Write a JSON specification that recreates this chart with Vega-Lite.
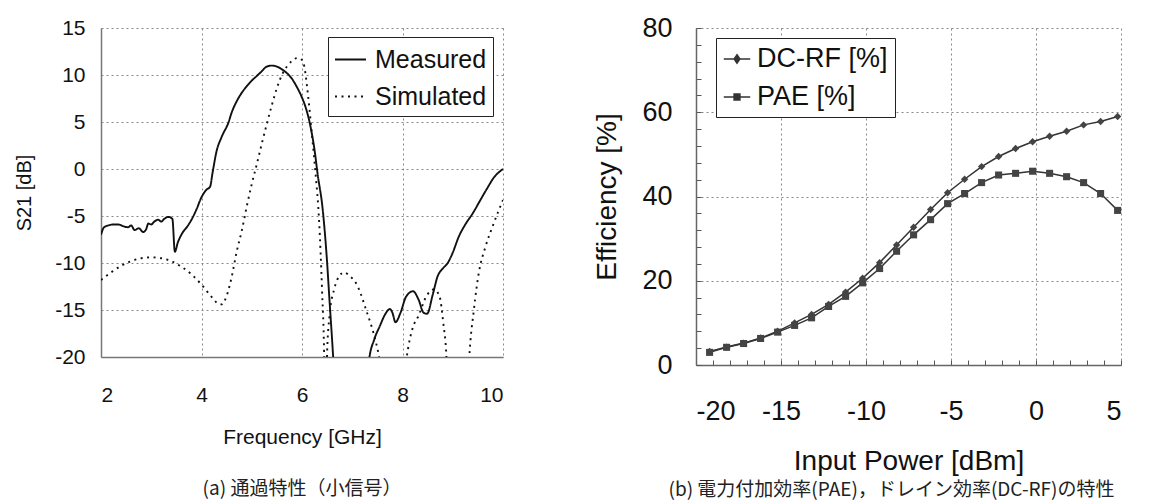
{
  "$schema": "https://vega.github.io/schema/vega-lite/v6.json",
  "background": "white",
  "padding": {"left": 14, "top": 14, "right": 0, "bottom": 0},
  "config": {"view": {"stroke": null}, "font": "Liberation Sans"},
  "spacing": 90,
  "resolve": {"legend": {"strokeDash": "independent", "shape": "independent"}},
  "datasets": {
    "s21": [
      {"f": 2.0, "v": -7.0, "series": "Measured"},
      {"f": 2.06, "v": -6.2, "series": "Measured"},
      {"f": 2.15, "v": -6.0, "series": "Measured"},
      {"f": 2.25, "v": -5.9, "series": "Measured"},
      {"f": 2.34, "v": -5.9, "series": "Measured"},
      {"f": 2.45, "v": -6.1, "series": "Measured"},
      {"f": 2.54, "v": -6.2, "series": "Measured"},
      {"f": 2.6, "v": -6.0, "series": "Measured"},
      {"f": 2.67, "v": -6.5, "series": "Measured"},
      {"f": 2.75, "v": -6.3, "series": "Measured"},
      {"f": 2.84, "v": -6.7, "series": "Measured"},
      {"f": 2.9, "v": -6.4, "series": "Measured"},
      {"f": 2.94, "v": -5.8, "series": "Measured"},
      {"f": 3.0, "v": -5.9, "series": "Measured"},
      {"f": 3.06, "v": -5.6, "series": "Measured"},
      {"f": 3.14, "v": -5.4, "series": "Measured"},
      {"f": 3.2, "v": -5.6, "series": "Measured"},
      {"f": 3.26, "v": -5.3, "series": "Measured"},
      {"f": 3.34, "v": -5.1, "series": "Measured"},
      {"f": 3.42, "v": -5.3, "series": "Measured"},
      {"f": 3.47, "v": -8.8, "series": "Measured"},
      {"f": 3.53, "v": -7.8, "series": "Measured"},
      {"f": 3.62, "v": -6.8, "series": "Measured"},
      {"f": 3.72, "v": -6.1, "series": "Measured"},
      {"f": 3.8, "v": -5.4, "series": "Measured"},
      {"f": 3.9, "v": -4.3, "series": "Measured"},
      {"f": 4.0, "v": -3.0, "series": "Measured"},
      {"f": 4.1, "v": -2.2, "series": "Measured"},
      {"f": 4.17, "v": -1.9, "series": "Measured"},
      {"f": 4.22, "v": -0.4, "series": "Measured"},
      {"f": 4.3, "v": 1.9, "series": "Measured"},
      {"f": 4.4, "v": 3.4, "series": "Measured"},
      {"f": 4.54, "v": 5.0, "series": "Measured"},
      {"f": 4.6, "v": 6.0, "series": "Measured"},
      {"f": 4.7, "v": 7.2, "series": "Measured"},
      {"f": 4.8, "v": 8.1, "series": "Measured"},
      {"f": 4.9, "v": 8.8, "series": "Measured"},
      {"f": 5.0, "v": 9.4, "series": "Measured"},
      {"f": 5.1, "v": 9.9, "series": "Measured"},
      {"f": 5.2, "v": 10.4, "series": "Measured"},
      {"f": 5.3, "v": 10.9, "series": "Measured"},
      {"f": 5.4, "v": 11.0, "series": "Measured"},
      {"f": 5.5, "v": 10.9, "series": "Measured"},
      {"f": 5.6, "v": 10.6, "series": "Measured"},
      {"f": 5.7, "v": 10.2, "series": "Measured"},
      {"f": 5.8, "v": 9.6, "series": "Measured"},
      {"f": 5.9, "v": 8.7, "series": "Measured"},
      {"f": 6.0, "v": 7.6, "series": "Measured"},
      {"f": 6.07, "v": 6.6, "series": "Measured"},
      {"f": 6.17, "v": 4.5, "series": "Measured"},
      {"f": 6.25, "v": 2.0, "series": "Measured"},
      {"f": 6.31, "v": -0.5, "series": "Measured"},
      {"f": 6.41, "v": -4.2, "series": "Measured"},
      {"f": 6.49, "v": -9.2, "series": "Measured"},
      {"f": 6.55, "v": -14.2, "series": "Measured"},
      {"f": 6.62, "v": -20, "series": "Measured"},
      {"f": 6.7, "v": -28, "series": "Measured"},
      {"f": 7.25, "v": -28, "series": "Measured"},
      {"f": 7.33, "v": -20.5, "series": "Measured"},
      {"f": 7.44, "v": -18.1, "series": "Measured"},
      {"f": 7.55, "v": -16.7, "series": "Measured"},
      {"f": 7.65, "v": -15.5, "series": "Measured"},
      {"f": 7.75, "v": -14.9, "series": "Measured"},
      {"f": 7.8, "v": -15.3, "series": "Measured"},
      {"f": 7.86, "v": -16.3, "series": "Measured"},
      {"f": 7.96, "v": -15.3, "series": "Measured"},
      {"f": 8.07, "v": -13.6, "series": "Measured"},
      {"f": 8.21, "v": -13.0, "series": "Measured"},
      {"f": 8.32, "v": -13.9, "series": "Measured"},
      {"f": 8.42, "v": -15.3, "series": "Measured"},
      {"f": 8.49, "v": -15.4, "series": "Measured"},
      {"f": 8.6, "v": -13.4, "series": "Measured"},
      {"f": 8.7, "v": -11.4, "series": "Measured"},
      {"f": 8.8, "v": -10.6, "series": "Measured"},
      {"f": 8.9, "v": -10.0, "series": "Measured"},
      {"f": 9.0, "v": -8.9, "series": "Measured"},
      {"f": 9.12, "v": -7.2, "series": "Measured"},
      {"f": 9.25, "v": -5.9, "series": "Measured"},
      {"f": 9.4, "v": -4.7, "series": "Measured"},
      {"f": 9.55, "v": -3.3, "series": "Measured"},
      {"f": 9.68, "v": -2.1, "series": "Measured"},
      {"f": 9.82, "v": -0.9, "series": "Measured"},
      {"f": 10.0, "v": 0.0, "series": "Measured"},
      {"f": 2.0, "v": -11.8, "series": "Simulated"},
      {"f": 2.2, "v": -11.0, "series": "Simulated"},
      {"f": 2.4, "v": -10.3, "series": "Simulated"},
      {"f": 2.6, "v": -9.8, "series": "Simulated"},
      {"f": 2.8, "v": -9.5, "series": "Simulated"},
      {"f": 3.0, "v": -9.4, "series": "Simulated"},
      {"f": 3.2, "v": -9.5, "series": "Simulated"},
      {"f": 3.4, "v": -9.8, "series": "Simulated"},
      {"f": 3.6, "v": -10.4, "series": "Simulated"},
      {"f": 3.8, "v": -11.2, "series": "Simulated"},
      {"f": 4.0, "v": -12.3, "series": "Simulated"},
      {"f": 4.2, "v": -13.6, "series": "Simulated"},
      {"f": 4.3, "v": -14.2, "series": "Simulated"},
      {"f": 4.4, "v": -14.4, "series": "Simulated"},
      {"f": 4.5, "v": -13.5, "series": "Simulated"},
      {"f": 4.6, "v": -11.5, "series": "Simulated"},
      {"f": 4.7, "v": -8.8, "series": "Simulated"},
      {"f": 4.8, "v": -6.6, "series": "Simulated"},
      {"f": 4.9, "v": -4.0, "series": "Simulated"},
      {"f": 5.0, "v": -1.6, "series": "Simulated"},
      {"f": 5.1, "v": 0.5, "series": "Simulated"},
      {"f": 5.2, "v": 2.7, "series": "Simulated"},
      {"f": 5.3, "v": 4.8, "series": "Simulated"},
      {"f": 5.4, "v": 6.8, "series": "Simulated"},
      {"f": 5.5, "v": 8.6, "series": "Simulated"},
      {"f": 5.6, "v": 10.0, "series": "Simulated"},
      {"f": 5.7, "v": 10.9, "series": "Simulated"},
      {"f": 5.8, "v": 11.5, "series": "Simulated"},
      {"f": 5.9, "v": 11.8, "series": "Simulated"},
      {"f": 6.0, "v": 11.6, "series": "Simulated"},
      {"f": 6.05, "v": 10.8, "series": "Simulated"},
      {"f": 6.1, "v": 8.8, "series": "Simulated"},
      {"f": 6.2, "v": 3.5, "series": "Simulated"},
      {"f": 6.27, "v": -0.5, "series": "Simulated"},
      {"f": 6.34, "v": -5.5, "series": "Simulated"},
      {"f": 6.4, "v": -13, "series": "Simulated"},
      {"f": 6.44, "v": -19.5, "series": "Simulated"},
      {"f": 6.47, "v": -30, "series": "Simulated"},
      {"f": 6.5, "v": -19.5, "series": "Simulated"},
      {"f": 6.55, "v": -15.5, "series": "Simulated"},
      {"f": 6.64, "v": -12.8, "series": "Simulated"},
      {"f": 6.74, "v": -11.4, "series": "Simulated"},
      {"f": 6.84, "v": -11.0, "series": "Simulated"},
      {"f": 6.95, "v": -11.4, "series": "Simulated"},
      {"f": 7.07, "v": -12.1, "series": "Simulated"},
      {"f": 7.17, "v": -13.3, "series": "Simulated"},
      {"f": 7.27, "v": -14.9, "series": "Simulated"},
      {"f": 7.37, "v": -16.5, "series": "Simulated"},
      {"f": 7.47, "v": -18.4, "series": "Simulated"},
      {"f": 7.55, "v": -20.5, "series": "Simulated"},
      {"f": 7.8, "v": -35, "series": "Simulated"},
      {"f": 8.07, "v": -20.5, "series": "Simulated"},
      {"f": 8.15, "v": -18, "series": "Simulated"},
      {"f": 8.21, "v": -16.8, "series": "Simulated"},
      {"f": 8.32, "v": -15.6, "series": "Simulated"},
      {"f": 8.46, "v": -13.7, "series": "Simulated"},
      {"f": 8.55, "v": -13.0, "series": "Simulated"},
      {"f": 8.63, "v": -12.8, "series": "Simulated"},
      {"f": 8.74, "v": -13.6, "series": "Simulated"},
      {"f": 8.81, "v": -16.3, "series": "Simulated"},
      {"f": 8.87, "v": -19.5, "series": "Simulated"},
      {"f": 8.95, "v": -30, "series": "Simulated"},
      {"f": 9.25, "v": -30, "series": "Simulated"},
      {"f": 9.33, "v": -20, "series": "Simulated"},
      {"f": 9.42, "v": -15, "series": "Simulated"},
      {"f": 9.52, "v": -11, "series": "Simulated"},
      {"f": 9.65, "v": -8.3, "series": "Simulated"},
      {"f": 9.8, "v": -6.0, "series": "Simulated"},
      {"f": 9.9, "v": -4.6, "series": "Simulated"},
      {"f": 10.0, "v": -3.3, "series": "Simulated"}
    ],
    "eff": [
      {"p": -19.2, "e": 3.2, "series": "DC-RF [%]"},
      {"p": -18.2, "e": 4.25, "series": "DC-RF [%]"},
      {"p": -17.2, "e": 5.2, "series": "DC-RF [%]"},
      {"p": -16.2, "e": 6.4, "series": "DC-RF [%]"},
      {"p": -15.2, "e": 8.0, "series": "DC-RF [%]"},
      {"p": -14.2, "e": 10.0, "series": "DC-RF [%]"},
      {"p": -13.2, "e": 12.0, "series": "DC-RF [%]"},
      {"p": -12.2, "e": 14.4, "series": "DC-RF [%]"},
      {"p": -11.2, "e": 17.3, "series": "DC-RF [%]"},
      {"p": -10.2, "e": 20.6, "series": "DC-RF [%]"},
      {"p": -9.2, "e": 24.3, "series": "DC-RF [%]"},
      {"p": -8.2, "e": 28.5, "series": "DC-RF [%]"},
      {"p": -7.2, "e": 32.7, "series": "DC-RF [%]"},
      {"p": -6.2, "e": 36.9, "series": "DC-RF [%]"},
      {"p": -5.2, "e": 40.9, "series": "DC-RF [%]"},
      {"p": -4.2, "e": 44.1, "series": "DC-RF [%]"},
      {"p": -3.2, "e": 47.1, "series": "DC-RF [%]"},
      {"p": -2.2, "e": 49.5, "series": "DC-RF [%]"},
      {"p": -1.2, "e": 51.4, "series": "DC-RF [%]"},
      {"p": -0.2, "e": 53.0, "series": "DC-RF [%]"},
      {"p": 0.8, "e": 54.3, "series": "DC-RF [%]"},
      {"p": 1.8, "e": 55.5, "series": "DC-RF [%]"},
      {"p": 2.8, "e": 57.0, "series": "DC-RF [%]"},
      {"p": 3.8, "e": 57.8, "series": "DC-RF [%]"},
      {"p": 4.8, "e": 59.0, "series": "DC-RF [%]"},
      {"p": -19.2, "e": 3.0, "series": "PAE [%]"},
      {"p": -18.2, "e": 4.2, "series": "PAE [%]"},
      {"p": -17.2, "e": 5.1, "series": "PAE [%]"},
      {"p": -16.2, "e": 6.3, "series": "PAE [%]"},
      {"p": -15.2, "e": 7.8, "series": "PAE [%]"},
      {"p": -14.2, "e": 9.4, "series": "PAE [%]"},
      {"p": -13.2, "e": 11.2, "series": "PAE [%]"},
      {"p": -12.2, "e": 13.9, "series": "PAE [%]"},
      {"p": -11.2, "e": 16.3, "series": "PAE [%]"},
      {"p": -10.2, "e": 19.5, "series": "PAE [%]"},
      {"p": -9.2, "e": 22.9, "series": "PAE [%]"},
      {"p": -8.2, "e": 27.0, "series": "PAE [%]"},
      {"p": -7.2, "e": 30.9, "series": "PAE [%]"},
      {"p": -6.2, "e": 34.5, "series": "PAE [%]"},
      {"p": -5.2, "e": 38.3, "series": "PAE [%]"},
      {"p": -4.2, "e": 40.7, "series": "PAE [%]"},
      {"p": -3.2, "e": 43.3, "series": "PAE [%]"},
      {"p": -2.2, "e": 45.1, "series": "PAE [%]"},
      {"p": -1.2, "e": 45.5, "series": "PAE [%]"},
      {"p": -0.2, "e": 46.0, "series": "PAE [%]"},
      {"p": 0.8, "e": 45.5, "series": "PAE [%]"},
      {"p": 1.8, "e": 44.7, "series": "PAE [%]"},
      {"p": 2.8, "e": 43.3, "series": "PAE [%]"},
      {"p": 3.8, "e": 40.7, "series": "PAE [%]"},
      {"p": 4.8, "e": 36.7, "series": "PAE [%]"}
    ]
  },
  "hconcat": [
    {
      "width": 402,
      "height": 329,
      "title": {"text": "(a) 通過特性（小信号）", "orient": "bottom", "frame": "group", "anchor": "middle", "font": "Noto Sans CJK JP", "fontSize": 19, "fontWeight": "normal", "color": "#222", "offset": 33},
      "data": {"name": "s21"},
      "mark": {"type": "line", "clip": true, "interpolate": "monotone", "color": "#111", "strokeWidth": 1.9},
      "encoding": {
        "x": {"field": "f", "type": "quantitative", "scale": {"domain": [2, 10], "nice": false},
          "axis": {"values": [2, 4, 6, 8, 10], "labelExpr": "'' + datum.value", "title": "Frequency [GHz]", "titleFont": "Liberation Sans", "titleFontSize": 21, "titleFontWeight": "normal", "titleColor": "#111", "titlePadding": 21, "labelFont": "Liberation Sans", "labelFontSize": 21, "labelColor": "#111", "labelPadding": 27, "ticks": false, "domainColor": "#777", "domainWidth": 1.5, "grid": true, "gridColor": "#888", "gridDash": [2, 3], "gridWidth": 1}},
        "y": {"field": "v", "type": "quantitative", "scale": {"domain": [-20, 15], "nice": false},
          "axis": {"values": [-20, -15, -10, -5, 0, 5, 10, 15], "labelExpr": "'' + datum.value", "title": "S21 [dB]", "titleFont": "Liberation Sans", "titleFontSize": 20, "titleFontWeight": "normal", "titleColor": "#111", "titlePadding": 20, "labelFont": "Liberation Sans", "labelFontSize": 21, "labelColor": "#111", "labelPadding": 16, "ticks": false, "domainColor": "#777", "domainWidth": 1.5, "grid": true, "gridColor": "#888", "gridDash": [2, 3], "gridWidth": 1}},
        "strokeDash": {"field": "series", "type": "nominal", "scale": {"domain": ["Measured", "Simulated"], "range": [[1, 0], [2, 4.5]]},
          "legend": {"orient": "none", "legendX": 227, "legendY": 9, "title": null, "labelFont": "Liberation Sans", "labelFontSize": 25, "labelColor": "#111", "strokeColor": "#222", "fillColor": "white", "padding": 6, "rowPadding": 7, "labelOffset": 8, "symbolType": "stroke", "symbolSize": 961, "symbolStrokeWidth": 1.8, "symbolStrokeColor": "#111"}}
      }
    },
    {
      "width": 425,
      "height": 337,
      "title": {"text": "(b) 電力付加効率(PAE)，ドレイン効率(DC-RF)の特性", "orient": "bottom", "frame": "group", "anchor": "middle", "dx": -17, "font": "Noto Sans CJK JP", "fontSize": 19, "fontWeight": "normal", "color": "#222", "offset": 6},
      "data": {"name": "eff"},
      "encoding": {
        "x": {"field": "p", "type": "quantitative", "scale": {"domain": [-20, 5], "nice": false},
          "axis": {"values": [-20, -19, -18, -17, -16, -15, -14, -13, -12, -11, -10, -9, -8, -7, -6, -5, -4, -3, -2, -1, 0, 1, 2, 3, 4, 5], "labelExpr": "datum.value % 5 === 0 ? '' + datum.value : ''", "title": "Input Power [dBm]", "titleFont": "Liberation Sans", "titleFontSize": 28, "titleFontWeight": "normal", "titleColor": "#111", "titlePadding": 23, "labelFont": "Liberation Sans", "labelFontSize": 27, "labelColor": "#111", "labelPadding": 38, "ticks": true, "tickSize": -5, "tickColor": "#555", "tickWidth": 1, "domainColor": "#666", "domainWidth": 1.5, "grid": true, "gridColor": "#888", "gridDash": [2, 3], "gridWidth": 1, "gridOpacity": {"condition": {"test": "datum.value % 5 !== 0", "value": 0}, "value": 1}, "labelOverlap": false}},
        "y": {"field": "e", "type": "quantitative", "scale": {"domain": [0, 80], "nice": false},
          "axis": {"values": [0, 4, 8, 12, 16, 20, 24, 28, 32, 36, 40, 44, 48, 52, 56, 60, 64, 68, 72, 76, 80], "labelExpr": "datum.value % 20 === 0 ? '' + datum.value : ''", "title": "Efficiency [%]", "titleFont": "Liberation Sans", "titleFontSize": 28, "titleFontWeight": "normal", "titleColor": "#111", "titlePadding": 20, "labelFont": "Liberation Sans", "labelFontSize": 27, "labelColor": "#111", "labelPadding": 29, "ticks": true, "tickSize": -5, "tickColor": "#555", "tickWidth": 1, "domainColor": "#666", "domainWidth": 1.5, "grid": true, "gridColor": "#888", "gridDash": [2, 3], "gridWidth": 1, "gridOpacity": {"condition": {"test": "datum.value % 20 !== 0", "value": 0}, "value": 1}, "labelOverlap": false}}
      },
      "layer": [
        {
          "mark": {"type": "line", "color": "#333", "strokeWidth": 1.5},
          "encoding": {"detail": {"field": "series", "type": "nominal"}}
        },
        {
          "transform": [{"filter": "datum.series === 'DC-RF [%]'"}],
          "mark": {"type": "point", "filled": true, "color": "#444", "opacity": 1, "size": 55, "shape": "diamond"}
        },
        {
          "transform": [{"filter": "datum.series === 'PAE [%]'"}],
          "mark": {"type": "point", "filled": true, "color": "#444", "opacity": 1, "size": 50, "shape": "square"}
        },
        {
          "transform": [{"filter": "datum.e < -1000"}],
          "mark": {"type": "point", "filled": false, "color": "#333", "opacity": 1, "strokeWidth": 1.5},
          "encoding": {
            "shape": {"field": "series", "type": "nominal", "scale": {"domain": ["DC-RF [%]", "PAE [%]"], "range": ["M-1,0L1,0M0,-0.32L0.22,0L0,0.32L-0.22,0ZM0,-0.16L0.11,0L0,0.16L-0.11,0Z", "M-1,0L1,0M-0.22,-0.22L0.22,-0.22L0.22,0.22L-0.22,0.22ZM-0.11,-0.11L0.11,-0.11L0.11,0.11L-0.11,0.11Z"]},
              "legend": {"orient": "none", "legendX": 20, "legendY": 10, "title": null, "labelFont": "Liberation Sans", "labelFontSize": 27, "labelColor": "#111", "strokeColor": "#222", "fillColor": "white", "padding": 7, "rowPadding": 11, "labelOffset": 6, "symbolStrokeColor": "#333", "symbolStrokeWidth": 1.5, "symbolSize": 700,
                "encode": {"symbols": {"size": {"value": 700}, "stroke": {"value": "#333"}, "strokeWidth": {"value": 1.5}, "fill": {"value": "#444"}, "opacity": {"value": 1}}}}}
          }
        }
      ]
    }
  ]
}
